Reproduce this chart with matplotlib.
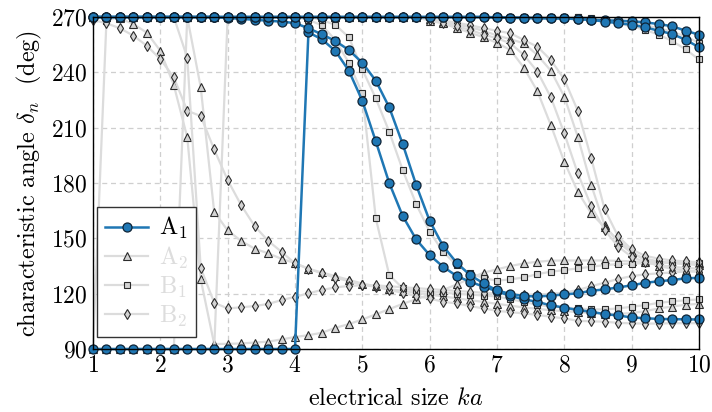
import numpy as np
import matplotlib
matplotlib.use('Agg')
import matplotlib.pyplot as plt
from matplotlib.lines import Line2D

plt.rcParams['font.family'] = 'cmr10'
plt.rcParams['mathtext.fontset'] = 'cm'
plt.rcParams['axes.formatter.use_mathtext'] = True

# electrical size ka, one sample every 0.2
ka = np.round(np.arange(1.0, 10.01, 0.2), 1)

# A1 modes (blue)
a1_p = [90, 90, 90, 90, 90, 90, 90, 90, 90, 90, 90, 90, 90, 90, 90, 90,
        261.7, 257.9, 251.6, 240.9, 224.6, 202.6, 180.0, 162.1, 149.4, 140.9,
        134.6, 129.6, 126.5, 123.8, 121.3, 118.8, 116.9, 115.6, 113.6, 112.5,
        111.1, 110.2, 108.9, 108.2, 107.1, 106.7, 106.3, 106.2, 106.1, 106.0]
a1_q = [270, 270, 270, 270, 270, 270, 270, 270, 270, 270, 269.5, 269, 268.5,
        268, 267.5, 266.7, 263.9, 260.6, 257.0, 252.1, 245.2, 235.5, 221.0,
        201.1, 178.9, 159.5, 145.8, 136.8, 130.1, 125.6, 121.8, 119.8, 118.7,
        118.5, 118.9, 119.6, 120.2, 121.6, 122.3, 123.4, 124.5, 125.9, 126.7,
        127.4, 128.3, 128.6]
a1_r = [270, 270, 270, 270, 270, 270, 270, 270, 270, 270, 270, 270, 270, 270,
        270, 270, 270, 270, 270, 270, 270, 270, 270, 270, 270, 270, 270, 270,
        270, 270, 269.8, 269.6, 269.5, 269.4, 269.3, 269.2, 268.9, 268.5,
        268.2, 268.0, 267.7, 267.1, 266.2, 265.0, 262.6, 260.4]
a1_s = [270, 270, 270, 270, 270, 270, 270, 270, 270, 270, 270, 270, 270, 270,
        270, 270, 270, 270, 270, 270, 270, 270, 270, 270, 270, 270, 270, 270,
        270, 270, 269.8, 269.6, 269.5, 269.4, 269.3, 269.2, 268.9, 268.5,
        267.5, 266.7, 265.8, 264.4, 262.6, 260.8, 257.7, 253.6]

# A2 modes (triangles)
a2_1 = [270, 270, 269.3, 266.2, 261.5, 251.7, 233.1, 204.8, 127.8, 92.7,
        92.8, 93.0, 93.5, 94.0, 95.2, 96.5, 97.5, 98.8, 101.5, 103.5, 106.0,
        108.8, 111.6, 114.5, 117.0, 119.5, 122.0, 125.0, 128.2, 131.4, 133.2,
        135.0, 136.4, 137.3, 137.9, 138.0, 138.0, 138.0, 138.0, 137.8, 137.5,
        137.2, 137.0, 136.8, 136.6, 136.5]
a2_2 = [90, 90, 90, 90, 90, 90, 90, 270, 231.9, 164.4, 154.3, 148.6, 144.4,
        141.9, 138.9, 136.6, 133.5, 131.5, 129.5, 127.5, 125.5, 124.0, 122.5,
        121.5, 120.5, 119.5, 118.5, 117.5, 116.5, 115.5, 114.5, 113.5, 112.5,
        111.8, 111.0, 110.5, 110.0, 109.5, 109.0, 109.0, 109.5, 110.5, 112.0,
        113.0, 114.0, 114.5]
a2_3 = [270, 270, 270, 270, 270, 270, 270, 270, 270, 270, 270, 270, 270, 270,
        270, 270, 270, 270, 270, 270, 270, 270, 270, 270, 270, 269.0, 267.5,
        266.0, 264.5, 262.5, 260.0, 258.0, 255.7, 249.4, 240.9, 226.8, 205.1,
        178.9, 157.0, 148.0, 142.0, 139.0, 137.5, 136.5, 136.0, 135.5]
a2_4 = [270, 270, 270, 270, 270, 270, 270, 270, 270, 270, 270, 270, 270, 270,
        270, 270, 270, 270, 270, 270, 270, 270, 270, 270, 270, 268.0, 266.5,
        264.0, 261.5, 259.0, 256.0, 252.1, 242.5, 229.8, 211.4, 191.5, 175.3,
        163.5, 156.0, 149.0, 142.7, 138.0, 135.0, 133.5, 132.5, 132.0]

# B1 modes (squares)
b1_1 = [90, 268, 270, 270, 270, 270, 270, 270, 270, 270, 270, 270, 270, 270,
        270, 270, 268.5, 265.5, 257.5, 245.2, 228.6, 160.9, 130.1, 123.0,
        121.5, 121.0, 120.5, 120.0, 119.5, 119.0, 118.5, 117.0, 115.5, 114.0,
        113.0, 112.5, 112.0, 111.5, 111.5, 112.0, 112.9, 113.8, 115.0, 115.8,
        116.4, 116.9]
b1_2 = [90, 90, 90, 90, 90, 90, 90, 90, 90, 90, 270, 270, 270, 270, 270, 270,
        270, 268.4, 265.7, 259.0, 241.6, 225.9, 207.8, 187.0, 168.6, 153.6,
        142.7, 135.5, 131.0, 128.5, 127.0, 127.8, 128.8, 130.6, 131.9, 132.8,
        133.7, 134.6, 135.5, 136.0, 136.3, 136.5, 136.6, 136.7, 136.7, 136.8]
b1_3 = [270, 270, 270, 270, 270, 270, 270, 270, 270, 270, 270, 270, 270, 270,
        270, 270, 270, 270, 270, 270, 270, 270, 270, 270, 270, 270, 270, 270,
        270, 270, 270, 270, 270, 270, 270, 270, 270, 269.5, 268.5, 267.5,
        266.5, 265.5, 264.0, 262.0, 259.5, 256.0]
b1_4 = [270, 270, 270, 270, 270, 270, 270, 270, 270, 270, 270, 270, 270, 270,
        270, 270, 270, 270, 270, 270, 270, 270, 270, 270, 270, 270, 270, 270,
        270, 270, 270, 270, 270, 270, 270, 270, 270, 269.0, 268.0, 266.5,
        265.0, 263.0, 260.5, 257.0, 252.5, 247.0]

# B2 modes (diamonds)
b2_1 = [268.4, 266.6, 263.9, 259.9, 254.4, 247.2, 237.3, 219.2, 216.3, 198.2,
        181.6, 168.0, 156.7, 148.7, 142.7, 136.4, 133.5, 131.0, 128.6, 126.8,
        124.7, 123.8, 122.0, 120.5, 118.7, 117.4, 115.6, 114.7, 113.3, 112.0,
        110.7, 110.0, 109.3, 108.5, 107.5, 106.6, 105.3, 105.0, 104.8, 104.2,
        103.9, 103.8, 103.8, 104.0, 104.0, 104.0]
b2_2 = [270, 270, 270, 270, 270, 270, 270, 248.0, 133.9, 115.1, 112.0, 112.6,
        113.3, 114.4, 116.5, 118.3, 120.2, 122.0, 123.4, 124.2, 124.5, 124.5,
        124.0, 123.5, 123.0, 122.5, 122.0, 121.5, 121.0, 120.5, 120.0, 119.5,
        119.5, 119.5, 120.0, 120.5, 122.0, 124.0, 126.0, 128.0, 129.5, 130.5,
        131.0, 131.5, 132.0, 132.0]
b2_3 = [270, 270, 270, 270, 270, 270, 270, 270, 270, 270, 270, 270, 270, 270,
        270, 270, 270, 270, 270, 270, 270, 270, 270, 270, 270, 269.0, 268.0,
        267.0, 265.5, 264.0, 262.5, 261.2, 257.5, 253.9, 246.7, 236.2, 219.2,
        193.4, 165.7, 151.0, 144.0, 140.5, 139.0, 138.0, 137.5, 137.0]
b2_4 = [270, 270, 270, 270, 270, 270, 270, 270, 270, 270, 270, 270, 270, 270,
        270, 270, 270, 270, 270, 270, 270, 270, 270, 270, 270, 268.5, 267.0,
        265.0, 263.0, 260.5, 258.5, 255.7, 249.4, 240.4, 226.5, 206.9, 185.2,
        167.5, 154.5, 145.5, 140.0, 137.0, 135.5, 134.5, 134.0, 133.5]

blue = '#1f77b4'
gray_line = '#dcdcdc'
gray_face = '#d4d4d4'
edge = '#2b2b2b'

fig = plt.figure(figsize=(7.12, 4.12), dpi=100)
ax = fig.add_axes([0.1306, 0.1529, 0.8511, 0.8058])

gray_sets = [('^', 5.5, [a2_1, a2_2, a2_3, a2_4]),
             ('s', 4.5, [b1_1, b1_2, b1_3, b1_4]),
             ('d', 5.5, [b2_1, b2_2, b2_3, b2_4])]
for marker, ms, curves in gray_sets:
    for y in curves:
        ax.plot(ka, y, '-', color=gray_line, lw=1.6, marker=marker, ms=ms,
                mfc=gray_face, mec=edge, mew=0.8, clip_on=False, zorder=3)

for y in [a1_p, a1_q, a1_r, a1_s]:
    ax.plot(ka, y, '-', color=blue, lw=1.8, marker='o', ms=6.5,
            mfc=blue, mec='#0f2436', mew=0.9, clip_on=False, zorder=5)

ax.set_xlim(1, 10)
ax.set_ylim(90, 270)
ax.set_xticks(range(1, 11))
ax.set_yticks(range(90, 271, 30))
ax.tick_params(length=0, labelsize=17, pad=4)
ax.grid(True, ls=(0, (4, 3)), color='#cfcfcf', lw=0.9)
ax.set_axisbelow(True)
for sp in ax.spines.values():
    sp.set_color('black')
    sp.set_linewidth(1.0)
    sp.set_zorder(6)

ax.set_xlabel('electrical size $ka$', fontsize=17.5, labelpad=8)
ax.set_ylabel(r'characteristic angle $\delta_n$  (deg)', fontsize=17.5,
              labelpad=5)

handles = [
    Line2D([], [], color=blue, lw=1.8, marker='o', ms=6.5, mfc=blue,
           mec='#0f2436', mew=0.9),
    Line2D([], [], color=gray_line, lw=1.6, marker='^', ms=5.5,
           mfc=gray_face, mec=edge, mew=0.8),
    Line2D([], [], color=gray_line, lw=1.6, marker='s', ms=4.5,
           mfc=gray_face, mec=edge, mew=0.8),
    Line2D([], [], color=gray_line, lw=1.6, marker='d', ms=5.5,
           mfc=gray_face, mec=edge, mew=0.8),
]
leg = ax.legend(handles, ['A$_1$', 'A$_2$', 'B$_1$', 'B$_2$'],
                loc='lower left', bbox_to_anchor=(0.0066, 0.036),
                borderaxespad=0, fontsize=17.5,
                frameon=True, fancybox=False, edgecolor='#333333',
                framealpha=1, handlelength=1.75, labelspacing=0.15,
                borderpad=0.35, handletextpad=0.45)
leg.set_zorder(10)
leg.get_frame().set_linewidth(1.0)
for t in leg.get_texts()[1:]:
    t.set_color('#dddddd')

fig.savefig('out.png', dpi=100)
